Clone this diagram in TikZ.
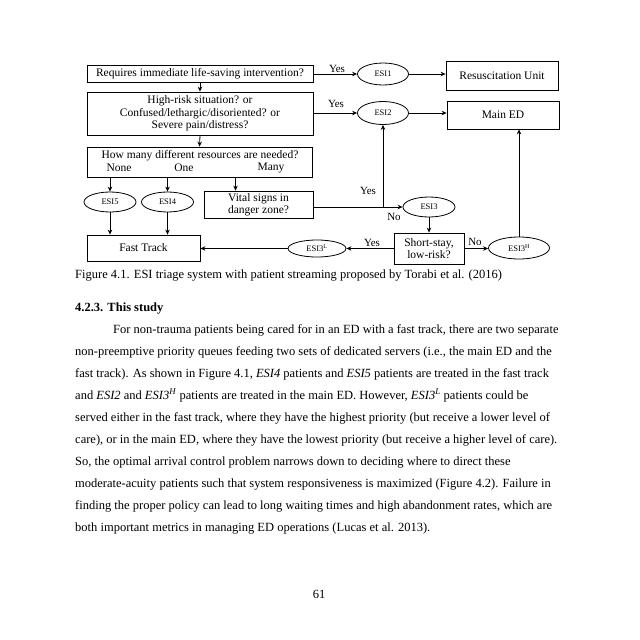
\documentclass[tikz,border=0pt]{standalone}
\usepackage{fontspec}
\setmainfont{Liberation Serif}
\usetikzlibrary{shapes.geometric,arrows.meta}
\begin{document}
\begin{tikzpicture}[x=1pt,y=-1pt,
  box/.style={draw, line width=0.8pt, inner sep=0pt, align=center, font=\fontsize{11.5}{12.5}\selectfont},
  oval/.style={draw, ellipse, line width=0.8pt, inner sep=0pt, font=\fontsize{8.5}{9}\selectfont},
  lbl/.style={inner sep=0pt, font=\fontsize{11}{12}\selectfont},
  arr/.style={line width=0.8pt, -{Stealth[length=5pt,width=4.5pt]}},
  ln/.style={line width=0.8pt},
  body/.style={anchor=base west, inner sep=0pt, font=\fontsize{12.5}{14}\selectfont},
]
\fill[white] (0,0) rectangle (640,640);
\path[use as bounding box] (0,0) rectangle (640,640);

% boxes
\node[box, minimum width=226pt, minimum height=17pt] (q1) at (200,73.5) {Requires immediate life-saving intervention?};
\node[box, minimum width=226pt, minimum height=43pt] (q2) at (200,113.5) {High-risk situation? or\\Confused/lethargic/disoriented? or\\Severe pain/distress?};
\node[box, minimum width=225pt, minimum height=30pt] (q3) at (199.5,162) {};
\node[box, minimum width=109pt, minimum height=27pt] (vital) at (258.5,204.5) {Vital signs in\\danger zone?};
\node[box, minimum width=113pt, minimum height=26pt] (fast) at (143.5,248) {Fast Track};
\node[box, minimum width=70pt, minimum height=31pt] (short) at (429,248.5) {Short-stay,\\low-risk?};
\node[box, minimum width=112pt, minimum height=29pt] (resus) at (502,75.5) {Resuscitation Unit};
\node[box, minimum width=112pt, minimum height=28pt] (main) at (503,115) {Main ED};

% ovals
\node[oval, minimum width=51pt, minimum height=22pt] (e1) at (383,74) {ESI1};
\node[oval, minimum width=51pt, minimum height=23pt] (e2) at (383,113) {ESI2};
\node[oval, minimum width=52pt, minimum height=20pt] (e5) at (110,202) {ESI5};
\node[oval, minimum width=52pt, minimum height=20pt] (e4) at (167.5,202) {ESI4};
\node[oval, minimum width=52pt, minimum height=20pt] (e3) at (429,207) {ESI3};
\node[oval, minimum width=58pt, minimum height=17pt] (e3l) at (317,248.5) {ESI3\textsuperscript{L}};
\node[oval, minimum width=61pt, minimum height=22pt] (e3h) at (519,248) {ESI3\textsuperscript{H}};

% labels inside resources box
\node[lbl, font=\fontsize{11.5}{12.5}\selectfont] (q3t) at (200,156) {How many different resources are needed?};
\node[lbl, font=\fontsize{11.5}{12.5}\selectfont] (none) at (119,168) {None};
\node[lbl, font=\fontsize{11.5}{12.5}\selectfont] (one) at (184,168) {One};
\node[lbl, font=\fontsize{11.5}{12.5}\selectfont] (many) at (271,168) {Many};

% connector labels
\node[lbl] (y1) at (337,68.5) {Yes};
\node[lbl] (y2) at (336,104) {Yes};
\node[lbl] (y3) at (368,191) {Yes};
\node[lbl] (n3) at (394,217) {No};
\node[lbl] (y4) at (372,243) {Yes};
\node[lbl] (n4) at (475,241.5) {No};

\coordinate (mny) at (235.5,177);
\coordinate (jn) at (383,207);

% connectors
\draw[arr] (q1.south) -- (q2.north);
\draw[arr] (q2.south) -- (q3.north);
\draw[arr] (e1.west -| q1.east) -- (e1.west);
\draw[arr] (e2.west -| q2.east) -- (e2.west);
\draw[arr] (e1.east) -- (e1.east -| resus.west);
\draw[arr] (e2.east) -- (e2.east -| main.west);
\draw[arr] (e5.north |- q3.south) -- (e5.north);
\draw[arr] (e4.north |- q3.south) -- (e4.north);
\draw[arr] (mny) -- (mny |- vital.north);
\draw[arr] (e5.south) -- (e5.south |- fast.north);
\draw[arr] (e4.south) -- (e4.south |- fast.north);
\draw[arr] (e3.west -| vital.east) -- (e3.west);
\draw[arr] (jn) -- (e2.south);
\draw[arr] (e3.south) -- (short.north);
\draw[arr] (short.west) -- (e3l.east);
\draw[arr] (e3l.west) -- (e3l.west -| fast.east);
\draw[arr] (short.east) -- (short.east -| e3h.west);
\draw[arr] (e3h.north) -- (e3h.north |- main.south);

% caption and text
\node[body] (cap) at (75,278.5) {Figure 4.1. ESI triage system with patient streaming proposed by Torabi et al. (2016)};
\node[body, font=\fontsize{12.5}{14}\selectfont\bfseries] (hd) at (75,311) {4.2.3. This study};
\node[body] (l1) at (113,333) {For non-trauma patients being cared for in an ED with a fast track, there are two separate};
\node[body] (l2) at (75,355.1) {non-preemptive priority queues feeding two sets of dedicated servers (i.e., the main ED and the};
\node[body] (l3) at (75,377.2) {fast track). As shown in Figure 4.1, \textit{ESI4} patients and \textit{ESI5} patients are treated in the fast track};
\node[body] (l4) at (75,399.3) {and \textit{ESI2} and \textit{ESI3}\textsuperscript{\textit{H}} patients are treated in the main ED. However, \textit{ESI3}\textsuperscript{\textit{L}} patients could be};
\node[body] (l5) at (75,421.4) {served either in the fast track, where they have the highest priority (but receive a lower level of};
\node[body] (l6) at (75,443.5) {care), or in the main ED, where they have the lowest priority (but receive a higher level of care).};
\node[body] (l7) at (75,465.6) {So, the optimal arrival control problem narrows down to deciding where to direct these};
\node[body] (l8) at (75,487.7) {moderate-acuity patients such that system responsiveness is maximized (Figure 4.2). Failure in};
\node[body] (l9) at (75,509.8) {finding the proper policy can lead to long waiting times and high abandonment rates, which are};
\node[body] (l10) at (75,531.9) {both important metrics in managing ED operations (Lucas et al. 2013).};
\node[inner sep=0pt, anchor=base, font=\fontsize{12.5}{14}\selectfont] (pg) at (319,598) {61};
\end{tikzpicture}
\end{document}
